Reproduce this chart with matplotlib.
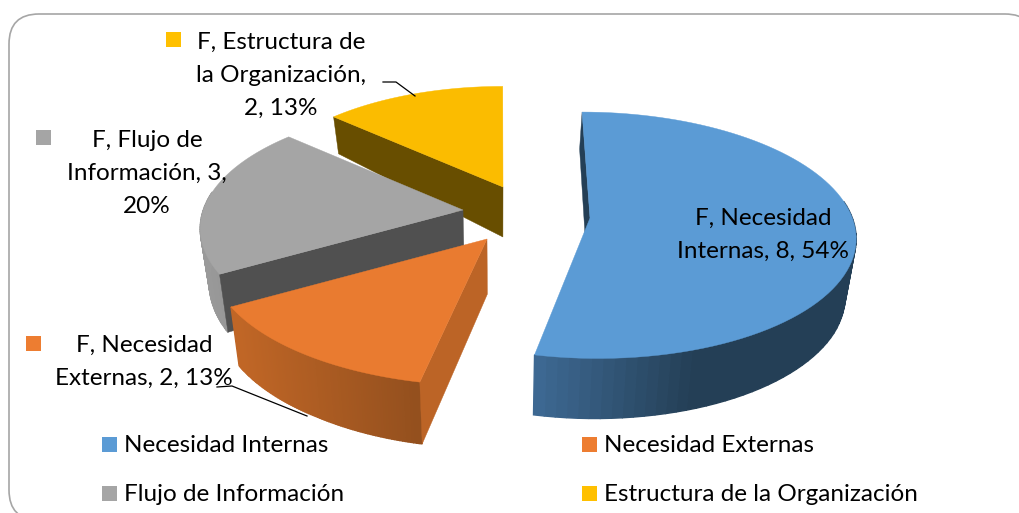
import numpy as np
import matplotlib
matplotlib.use("Agg")
import matplotlib.pyplot as plt
from matplotlib.patches import FancyBboxPatch, Rectangle

categories = ["Necesidad Internas", "Necesidad Externas", "Flujo de Información", "Estructura de la Organización"]
values = [8, 2, 3, 2]
percents = [54, 13, 20, 13]
label_lines = [
    ["F, Necesidad", "Internas, 8, 54%"],
    ["F, Necesidad", "Externas, 2, 13%"],
    ["F, Flujo de", "Información, 3,", "20%"],
    ["F, Estructura de", "la Organización,", "2, 13%"],
]
top_colors = ["#5B9BD5", "#E97B30", "#A5A5A5", "#FBBC00"]
legend_colors = ["#5B9BD5", "#ED7D31", "#A5A5A5", "#FFC000"]

# where each exploded slice sits, and its size factor
apex = [(590, 218), (487, 239), (463, 210), (503, 187)]
scale = [0.99, 1.035, 0.98, 0.94]
# radial wall colour, outer wall colour at left / right and the x range of that gradient
radial_color = ["#243F56", "#BC6426", "#505050", "#684E00"]
outer_left = ["#3E6A94", "#C06626", "#9A9A9A", "#8A6A00"]
outer_right = ["#243F56", "#94501E", "#8A8A8A", "#8A6A00"]
grad_x = [(540, 700), (238, 415), (200, 300), (330, 505)]

RX, RY, K = 265, 122, 0.14
VP = 500


def rim(i, th):
    cx, cy = apex[i]
    s = scale[i] / (1 + K * np.cos(th))
    x = cx + RX * np.sin(th) * s - 0.088 * (cx - VP) * np.cos(th)
    y = cy - RY * np.cos(th) * s
    return x, y


def lower(x, y):
    depth = np.interp(y, [118, 187, 238, 273, 357, 385], [37, 50, 55, 58, 60, 62])
    return VP + (x - VP) * 0.97, y + depth


def mix(c1, c2, f):
    a = np.array(matplotlib.colors.to_rgb(c1))
    b = np.array(matplotlib.colors.to_rgb(c2))
    return tuple(a + (b - a) * f)


fig = plt.figure(figsize=(10.19, 5.13), dpi=100)
ax = fig.add_axes([0, 0, 1, 1])
ax.set_xlim(0, 1019)
ax.set_ylim(513, 0)
ax.axis("off")
plt.rcParams["font.family"] = ["Lato", "DejaVu Sans"]
FS = 17.5

ax.add_patch(FancyBboxPatch((39, 44), 966, 446, boxstyle="round,pad=30,rounding_size=30",
                            fc="white", ec="#A6A6A6", lw=1.2, zorder=0))

edges = 2 * np.pi * np.cumsum([0] + values) / sum(values)

# back slices first so the front ones cover them
for z, i in enumerate([3, 2, 1, 0]):
    th = np.linspace(edges[i], edges[i + 1], 90)
    xs, ys = rim(i, th)
    cx, cy = apex[i]
    bx, by = lower(xs, ys)
    acx, acy = lower(cx, cy)
    base = 2 + z * 3
    for j in range(len(th) - 1):
        # only the front of the rim can be seen
        if np.cos(th[j]) > 0.15:
            continue
        f = np.clip((xs[j] - grad_x[i][0]) / (grad_x[i][1] - grad_x[i][0]), 0, 1)
        c = mix(outer_left[i], outer_right[i], f)
        ax.fill([xs[j], xs[j + 1], bx[j + 1], bx[j]], [ys[j], ys[j + 1], by[j + 1], by[j]],
                color=c, lw=1.0, zorder=base)
    # the cut face at the start angle is the one turned to the viewer
    ax.fill([cx, xs[0], bx[0], acx], [cy, ys[0], by[0], acy], color=radial_color[i], lw=0.3, zorder=base + 1)
    ax.fill(np.r_[cx, xs], np.r_[cy, ys], color=top_colors[i], lw=0.3, zorder=base + 2)

# leader lines
ax.plot([383, 396, 415], [82, 82, 96], color="black", lw=0.9, zorder=20)
ax.plot([217, 232, 307], [387, 386, 416], color="black", lw=0.9, zorder=20)

# data labels
label_x = [763, 144, 147, 281]
label_y = [218.5, 345.5, 140.5, 42.5]
key_pos = [None, (26, 336), (36, 130), (166, 32)]
for i, lines in enumerate(label_lines):
    for n, line in enumerate(lines):
        ax.text(label_x[i], label_y[i] + n * 33, line, fontsize=FS, ha="center", va="center",
                color="black", zorder=21)
    if key_pos[i] is not None:
        ax.add_patch(Rectangle(key_pos[i], 15, 15, fc=legend_colors[i], ec="none", zorder=21))

# legend
leg_x = [102, 582, 102, 582]
leg_y = [437, 437, 486, 486]
for i, name in enumerate(categories):
    ax.add_patch(Rectangle((leg_x[i], leg_y[i]), 15, 15, fc=legend_colors[i], ec="none", zorder=21))
    ax.text(leg_x[i] + 22, leg_y[i] + 8.5, name, fontsize=FS, ha="left", va="center", color="black", zorder=21)

fig.savefig("out.png", dpi=100)
